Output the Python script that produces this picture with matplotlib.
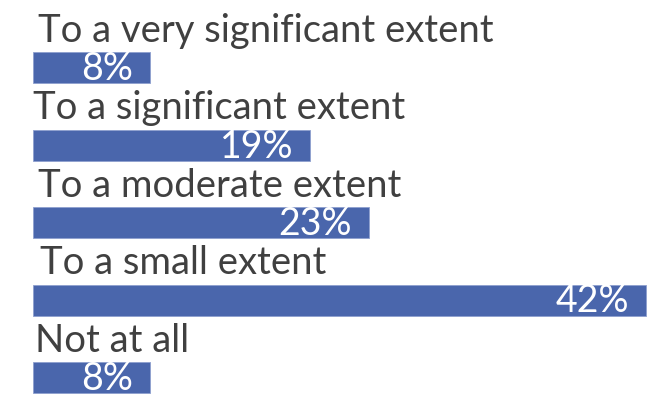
import matplotlib
matplotlib.use("Agg")
import matplotlib.pyplot as plt
from matplotlib import transforms

categories = [
    "To a very significant extent",
    "To a significant extent",
    "To a moderate extent",
    "To a small extent",
    "Not at all",
]
shares = [8, 19, 23, 42, 8]
share_labels = ["8%", "19%", "23%", "42%", "8%"]

BAR_COLOR = "#4A66AC"
TEXT_COLOR = "#404040"
FONT = "Lato"

W, H, DPI = 656, 394, 100
fig = plt.figure(figsize=(W / DPI, H / DPI), dpi=DPI)
ax = fig.add_axes([0, 0, 1, 1])

# horizontal scale: bars start 33 px from the left, 42% reaches 646 px
px_per_unit = (646 - 33) / 42
ax.set_xlim(-33 / px_per_unit, (W - 33) / px_per_unit)
# vertical: one row every 77.5 px, first bar centred 67.5 px from the top
row_px = 77.5
ax.set_ylim((H - 67.5) / row_px, -67.5 / row_px)
ax.axis("off")

pos = list(range(len(categories)))
bar_h = 31 / row_px
ax.barh(pos, shares, height=bar_h, color=BAR_COLOR, edgecolor="#8EA0CF",
        linewidth=0.6)

# small horizontal nudges of each category caption, in pixels
label_dx = [5, 0, 5, 7, 2]

for i, (cat, val, lab) in enumerate(zip(categories, shares, share_labels)):
    off = transforms.offset_copy(ax.transData, fig=fig, x=label_dx[i], y=10,
                                 units="dots")
    ax.text(0, i - bar_h / 2, cat, transform=off, ha="left", va="baseline",
            fontsize=27.5, color=TEXT_COLOR, family=FONT)
    off2 = transforms.offset_copy(ax.transData, fig=fig, x=-17, y=-12.5,
                                  units="dots")
    ax.text(val, i, lab, transform=off2, ha="right", va="baseline",
            fontsize=27, color="white", family=FONT)

fig.savefig("out.png", dpi=DPI)
